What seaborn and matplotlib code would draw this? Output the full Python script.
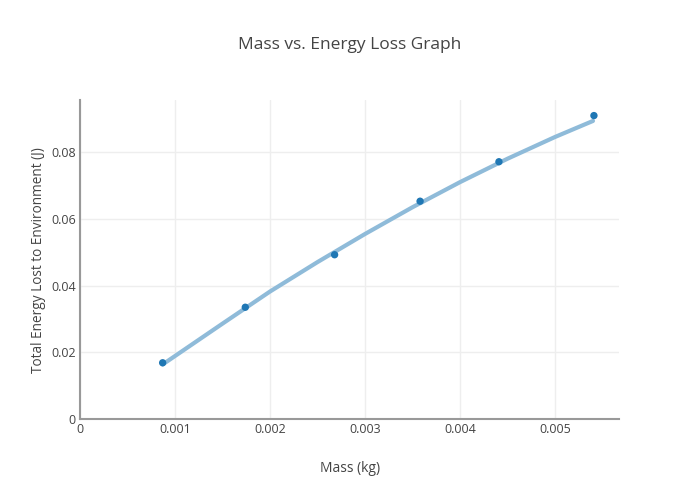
import numpy as np
import pandas as pd
import seaborn as sns
import matplotlib.pyplot as plt

# measured points
mass = [0.00087, 0.00174, 0.00268, 0.00358, 0.00441, 0.00541]
energy = [0.0169, 0.0335, 0.0492, 0.0652, 0.0770, 0.0908]

# fitted curve
fit_mass = [0.00087, 0.0015, 0.002, 0.0025, 0.003, 0.0035, 0.004, 0.0045, 0.005, 0.0054]
fit_energy = [0.0164, 0.0286, 0.0382, 0.0470, 0.0554, 0.0634, 0.0709, 0.0779, 0.0844, 0.0892]

xticks = [0, 0.001, 0.002, 0.003, 0.004, 0.005]
yticks = [0, 0.02, 0.04, 0.06, 0.08]

sns.set_style("white")
plt.rcParams['font.family'] = ['Open Sans', 'DejaVu Sans']

fig = plt.figure(figsize=(7, 5), dpi=100)
ax = fig.add_axes([80 / 700, 1 - 419.3 / 500, (619.3 - 80) / 700, (419.3 - 100) / 500])

fit_df = pd.DataFrame({'x': fit_mass, 'y': fit_energy})
pts_df = pd.DataFrame({'x': mass, 'y': energy})

sns.lineplot(data=fit_df, x='x', y='y', ax=ax, color='#8fbbd9', linewidth=3, sort=True)
sns.scatterplot(data=pts_df, x='x', y='y', ax=ax, color='#1f77b4', s=28, edgecolor='none', zorder=3)

ax.set_xlim(0, 0.005677)
ax.set_ylim(0, 0.09546)
ax.set_xticks(xticks)
ax.set_yticks(yticks)
ax.set_xticklabels(['0', '0.001', '0.002', '0.003', '0.004', '0.005'])
ax.set_yticklabels(['0', '0.02', '0.04', '0.06', '0.08'])
ax.tick_params(length=0, labelsize=9, colors='#444444', pad=3)

ax.grid(True, color='#eeeeee', linewidth=1)
ax.set_axisbelow(True)
for s in ['top', 'right']:
    ax.spines[s].set_visible(False)
for s in ['left', 'bottom']:
    ax.spines[s].set_color('#999999')
    ax.spines[s].set_linewidth(1.5)

ax.set_xlabel('Mass (kg)', fontsize=10, color='#444444', labelpad=18)
ax.set_ylabel('Total Energy Lost to Environment (J)', fontsize=9.8, color='#444444', labelpad=4)
fig.text(0.5, 1 - 45 / 500, 'Mass vs. Energy Loss Graph', ha='center', va='center',
         fontsize=12.5, color='#444444')

fig.savefig('out.png', dpi=100)
